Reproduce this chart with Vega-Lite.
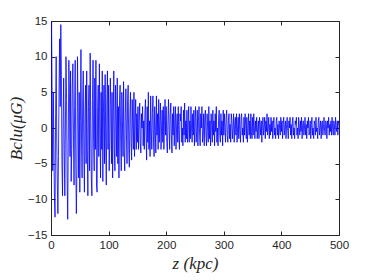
{
  "$schema": "https://vega.github.io/schema/vega-lite/v6.json",
  "autosize": "none",
  "width": 288,
  "height": 214,
  "padding": {"left": 51, "top": 21, "right": 35, "bottom": 45},
  "background": "white",
  "config": {
    "view": {"stroke": "#262626", "strokeWidth": 1},
    "axis": {"grid": false, "labelFlush": false, "labelOverlap": false, "domainColor": "#262626", "domainWidth": 1, "tickColor": "#262626", "tickWidth": 1, "tickSize": -4, "labelFont": "Liberation Sans", "labelFontSize": 11.5, "labelColor": "#262626", "titleFont": "Liberation Serif", "titleFontSize": 17, "titleFontWeight": "normal", "titleColor": "#262626"}
  },
  "data": {"values": [
{"z":0,"b":0},{"z":1,"b":15},{"z":2,"b":4},{"z":3,"b":-6},{"z":4,"b":5},{"z":5,"b":-3},{"z":6,"b":-10},{"z":7,"b":-12.5},{"z":8,"b":2},{"z":9,"b":10},
{"z":10,"b":-2},{"z":11,"b":-8},{"z":12,"b":-12},{"z":13,"b":-4},{"z":14,"b":6},{"z":15,"b":12.5},{"z":16,"b":3},{"z":17,"b":14.5},{"z":18,"b":8},{"z":19,"b":-5},
{"z":20,"b":-9.5},{"z":21,"b":1},{"z":22,"b":7},{"z":23,"b":-3},{"z":24,"b":-9.5},{"z":25,"b":0},{"z":26,"b":10},{"z":27,"b":4},{"z":28,"b":-7},{"z":29,"b":-12.8},
{"z":30,"b":-2},{"z":31,"b":9.5},{"z":32,"b":5},{"z":33,"b":-4},{"z":34,"b":8},{"z":35,"b":-7.5},{"z":36,"b":-3},{"z":37,"b":6},{"z":38,"b":9},{"z":39,"b":-1},
{"z":40,"b":-8},{"z":41,"b":3},{"z":42,"b":9.5},{"z":43,"b":-5},{"z":44,"b":-12},{"z":45,"b":-6},{"z":46,"b":10},{"z":47,"b":2},{"z":48,"b":-7},{"z":49,"b":5},
{"z":50,"b":-9},{"z":51,"b":1},{"z":52,"b":11},{"z":53,"b":-2},{"z":54,"b":-7},{"z":55,"b":4},{"z":56,"b":8},{"z":57,"b":-4},{"z":58,"b":-9},{"z":59,"b":2},
{"z":60,"b":6},{"z":61,"b":-5},{"z":62,"b":8},{"z":63,"b":-3},{"z":64,"b":-9.5},{"z":65,"b":3},{"z":66,"b":6},{"z":67,"b":-6},{"z":68,"b":10.5},{"z":69,"b":1},
{"z":70,"b":-7},{"z":71,"b":-9.5},{"z":72,"b":4},{"z":73,"b":9.5},{"z":74,"b":-2},{"z":75,"b":-6},{"z":76,"b":7},{"z":77,"b":-3},{"z":78,"b":9.5},{"z":79,"b":-8},
{"z":80,"b":-9},{"z":81,"b":3},{"z":82,"b":6},{"z":83,"b":-4},{"z":84,"b":9},{"z":85,"b":0},{"z":86,"b":-7},{"z":87,"b":5},{"z":88,"b":-3},{"z":89,"b":8},
{"z":90,"b":-7.5},{"z":91,"b":2},{"z":92,"b":6},{"z":93,"b":-5},{"z":94,"b":7.5},{"z":95,"b":-2},{"z":96,"b":-8},{"z":97,"b":4},{"z":98,"b":8},{"z":99,"b":-3},
{"z":100,"b":6},{"z":101,"b":-6},{"z":102,"b":-2},{"z":103,"b":7},{"z":104,"b":3},{"z":105,"b":-5},{"z":106,"b":5},{"z":107,"b":-7},{"z":108,"b":1},{"z":109,"b":8},
{"z":110,"b":-3},{"z":111,"b":-6},{"z":112,"b":6},{"z":113,"b":2},{"z":114,"b":-4},{"z":115,"b":7},{"z":116,"b":-5},{"z":117,"b":3},{"z":118,"b":-7},{"z":119,"b":4},
{"z":120,"b":6},{"z":121,"b":-2},{"z":122,"b":-6},{"z":123,"b":5},{"z":124,"b":1},{"z":125,"b":-4},{"z":126,"b":6.5},{"z":127,"b":-3},{"z":128,"b":-6},{"z":129,"b":2},
{"z":130,"b":5.5},{"z":131,"b":-1},{"z":132,"b":-5},{"z":133,"b":4},{"z":134,"b":6},{"z":135,"b":-3},{"z":136,"b":-5.5},{"z":137,"b":2},{"z":138,"b":5},{"z":139,"b":-2},
{"z":140,"b":-4.5},{"z":141,"b":4},{"z":142,"b":0},{"z":143,"b":-3},{"z":144,"b":5},{"z":145,"b":-4},{"z":146,"b":1},{"z":147,"b":4},{"z":148,"b":-3},{"z":149,"b":2},
{"z":150,"b":-2},{"z":151,"b":3},{"z":152,"b":-3},{"z":153,"b":1},{"z":154,"b":3.5},{"z":155,"b":-2},{"z":156,"b":-3.5},{"z":157,"b":2},{"z":158,"b":0},{"z":159,"b":3},
{"z":160,"b":-2.5},{"z":161,"b":1},{"z":162,"b":-3},{"z":163,"b":2},{"z":164,"b":4},{"z":165,"b":-1},{"z":166,"b":-4.5},{"z":167,"b":3},{"z":168,"b":-2},{"z":169,"b":5},
{"z":170,"b":-3},{"z":171,"b":1},{"z":172,"b":-4},{"z":173,"b":4.5},{"z":174,"b":0},{"z":175,"b":-3},{"z":176,"b":2},{"z":177,"b":4.5},{"z":178,"b":-2},{"z":179,"b":-4},
{"z":180,"b":3},{"z":181,"b":0},{"z":182,"b":-3.5},{"z":183,"b":4.5},{"z":184,"b":-1},{"z":185,"b":2},{"z":186,"b":-3},{"z":187,"b":4},{"z":188,"b":-2},{"z":189,"b":1},
{"z":190,"b":3.5},{"z":191,"b":-3},{"z":192,"b":0},{"z":193,"b":2.5},{"z":194,"b":-2},{"z":195,"b":3},{"z":196,"b":-3},{"z":197,"b":1},{"z":198,"b":4},{"z":199,"b":-1},
{"z":200,"b":3},{"z":201,"b":-2},{"z":202,"b":-3.5},{"z":203,"b":1},{"z":204,"b":4},{"z":205,"b":0},{"z":206,"b":-3},{"z":207,"b":2},{"z":208,"b":3.5},{"z":209,"b":-1},
{"z":210,"b":-3.5},{"z":211,"b":2},{"z":212,"b":-1},{"z":213,"b":3},{"z":214,"b":-2.5},{"z":215,"b":1},{"z":216,"b":3},{"z":217,"b":-3},{"z":218,"b":0},{"z":219,"b":2},
{"z":220,"b":-2},{"z":221,"b":3},{"z":222,"b":-1},{"z":223,"b":-3},{"z":224,"b":2},{"z":225,"b":1},{"z":226,"b":3},{"z":227,"b":-2},{"z":228,"b":0},{"z":229,"b":-2.5},
{"z":230,"b":2.5},{"z":231,"b":-1},{"z":232,"b":3.5},{"z":233,"b":-2},{"z":234,"b":1},{"z":235,"b":-1.5},{"z":236,"b":2.5},{"z":237,"b":-2},{"z":238,"b":0.5},{"z":239,"b":3},
{"z":240,"b":-2},{"z":241,"b":1},{"z":242,"b":-1.5},{"z":243,"b":3},{"z":244,"b":0},{"z":245,"b":-2},{"z":246,"b":2},{"z":247,"b":-1},{"z":248,"b":2.5},{"z":249,"b":-2.5},
{"z":250,"b":1},{"z":251,"b":3},{"z":252,"b":-2},{"z":253,"b":-0.5},{"z":254,"b":2.5},{"z":255,"b":-2.5},{"z":256,"b":1},{"z":257,"b":3},{"z":258,"b":-1},{"z":259,"b":-2.5},
{"z":260,"b":2},{"z":261,"b":0},{"z":262,"b":3},{"z":263,"b":-2},{"z":264,"b":-1},{"z":265,"b":2},{"z":266,"b":-2.5},{"z":267,"b":1.5},{"z":268,"b":2.5},{"z":269,"b":-1},
{"z":270,"b":-2.5},{"z":271,"b":2},{"z":272,"b":0},{"z":273,"b":-2},{"z":274,"b":3},{"z":275,"b":-1.5},{"z":276,"b":1},{"z":277,"b":-2.5},{"z":278,"b":2},{"z":279,"b":0.5},
{"z":280,"b":-2},{"z":281,"b":2.5},{"z":282,"b":-1},{"z":283,"b":1},{"z":284,"b":-2.5},{"z":285,"b":2},{"z":286,"b":-0.5},{"z":287,"b":3},{"z":288,"b":-2},{"z":289,"b":0},
{"z":290,"b":-2.5},{"z":291,"b":1.5},{"z":292,"b":2.5},{"z":293,"b":-1},{"z":294,"b":-2},{"z":295,"b":2},{"z":296,"b":-1},{"z":297,"b":1},{"z":298,"b":-2.5},{"z":299,"b":2.5},
{"z":300,"b":-1},{"z":301,"b":2},{"z":302,"b":0},{"z":303,"b":-2},{"z":304,"b":1.5},{"z":305,"b":2.5},{"z":306,"b":-1},{"z":307,"b":-2},{"z":308,"b":1},{"z":309,"b":2},
{"z":310,"b":-1.5},{"z":311,"b":0.5},{"z":312,"b":-2},{"z":313,"b":2},{"z":314,"b":1},{"z":315,"b":-1.5},{"z":316,"b":0},{"z":317,"b":2},{"z":318,"b":-2},{"z":319,"b":0.5},
{"z":320,"b":1.5},{"z":321,"b":-1},{"z":322,"b":2},{"z":323,"b":-2},{"z":324,"b":0},{"z":325,"b":1.5},{"z":326,"b":-1.5},{"z":327,"b":2},{"z":328,"b":-0.5},{"z":329,"b":-2},
{"z":330,"b":1.5},{"z":331,"b":2},{"z":332,"b":-1},{"z":333,"b":0},{"z":334,"b":-2},{"z":335,"b":1.5},{"z":336,"b":-1},{"z":337,"b":2},{"z":338,"b":0.5},{"z":339,"b":-1.5},
{"z":340,"b":1.5},{"z":341,"b":-2},{"z":342,"b":0},{"z":343,"b":2},{"z":344,"b":-1},{"z":345,"b":1},{"z":346,"b":-1.5},{"z":347,"b":2},{"z":348,"b":-0.5},{"z":349,"b":-1.5},
{"z":350,"b":1.5},{"z":351,"b":-1},{"z":352,"b":2},{"z":353,"b":0},{"z":354,"b":-1.5},{"z":355,"b":1},{"z":356,"b":-0.5},{"z":357,"b":1.5},{"z":358,"b":-1.5},{"z":359,"b":0},
{"z":360,"b":1},{"z":361,"b":-1.5},{"z":362,"b":1.5},{"z":363,"b":0.5},{"z":364,"b":-1},{"z":365,"b":1},{"z":366,"b":-2},{"z":367,"b":0.5},{"z":368,"b":1.5},{"z":369,"b":-1},
{"z":370,"b":0},{"z":371,"b":1.5},{"z":372,"b":-1.5},{"z":373,"b":1},{"z":374,"b":-0.5},{"z":375,"b":2},{"z":376,"b":-1},{"z":377,"b":0},{"z":378,"b":1.5},{"z":379,"b":-1.5},
{"z":380,"b":0.5},{"z":381,"b":-1},{"z":382,"b":1.5},{"z":383,"b":-0.5},{"z":384,"b":1},{"z":385,"b":-1.5},{"z":386,"b":0.5},{"z":387,"b":1.5},{"z":388,"b":-1},{"z":389,"b":0},
{"z":390,"b":-1.5},{"z":391,"b":1},{"z":392,"b":1.5},{"z":393,"b":-1},{"z":394,"b":0.5},{"z":395,"b":-1.5},{"z":396,"b":1},{"z":397,"b":0},{"z":398,"b":-1},{"z":399,"b":1.5},
{"z":400,"b":-0.5},{"z":401,"b":1},{"z":402,"b":-1.5},{"z":403,"b":0.5},{"z":404,"b":1.5},{"z":405,"b":-1},{"z":406,"b":0},{"z":407,"b":1},{"z":408,"b":-1.5},{"z":409,"b":0.5},
{"z":410,"b":1.5},{"z":411,"b":-0.5},{"z":412,"b":-1.5},{"z":413,"b":1},{"z":414,"b":0},{"z":415,"b":1.5},{"z":416,"b":-1},{"z":417,"b":0.5},{"z":418,"b":-1.5},{"z":419,"b":1},
{"z":420,"b":1.5},{"z":421,"b":-1},{"z":422,"b":0},{"z":423,"b":-1.5},{"z":424,"b":1},{"z":425,"b":0.5},{"z":426,"b":1.5},{"z":427,"b":-1},{"z":428,"b":0},{"z":429,"b":-1.5},
{"z":430,"b":1.5},{"z":431,"b":0},{"z":432,"b":-1},{"z":433,"b":1},{"z":434,"b":-0.5},{"z":435,"b":1.5},{"z":436,"b":-1.5},{"z":437,"b":0.5},{"z":438,"b":1},{"z":439,"b":-1},
{"z":440,"b":0},{"z":441,"b":1.5},{"z":442,"b":-1},{"z":443,"b":0.5},{"z":444,"b":-1.5},{"z":445,"b":1},{"z":446,"b":0},{"z":447,"b":1.5},{"z":448,"b":-1},{"z":449,"b":-0.5},
{"z":450,"b":1},{"z":451,"b":-1.5},{"z":452,"b":0.5},{"z":453,"b":1.5},{"z":454,"b":-1},{"z":455,"b":0},{"z":456,"b":-1.5},{"z":457,"b":1},{"z":458,"b":0.5},{"z":459,"b":-1},
{"z":460,"b":1.5},{"z":461,"b":-0.5},{"z":462,"b":0},{"z":463,"b":-1.5},{"z":464,"b":1},{"z":465,"b":1.5},{"z":466,"b":-1},{"z":467,"b":0},{"z":468,"b":1},{"z":469,"b":-1.5},
{"z":470,"b":0.5},{"z":471,"b":1},{"z":472,"b":-1},{"z":473,"b":0},{"z":474,"b":1.5},{"z":475,"b":-0.5},{"z":476,"b":-1},{"z":477,"b":1},{"z":478,"b":0.5},{"z":479,"b":-1.5},
{"z":480,"b":1},{"z":481,"b":0},{"z":482,"b":1.5},{"z":483,"b":-1},{"z":484,"b":0.5},{"z":485,"b":-0.5},{"z":486,"b":1},{"z":487,"b":-1},{"z":488,"b":1.5},{"z":489,"b":0},
{"z":490,"b":-1},{"z":491,"b":1},{"z":492,"b":0.5},{"z":493,"b":-1},{"z":494,"b":1.5},{"z":495,"b":0},{"z":496,"b":-0.5},{"z":497,"b":1},{"z":498,"b":-1},{"z":499,"b":1},{"z":500,"b":0.5}
  ]},
  "layer": [
    {
      "mark": {"type": "line", "color": "#0000ff", "strokeWidth": 0.8, "clip": true},
      "encoding": {
        "x": {"field": "z", "type": "quantitative", "scale": {"domain": [0, 500], "nice": false, "zero": false}, "axis": {"values": [0,100,200,300,400,500], "title": "z (kpc)", "titleFontStyle": "italic", "titlePadding": 5, "labelPadding": 8}},
        "y": {"field": "b", "type": "quantitative", "scale": {"domain": [-15, 15], "nice": false, "zero": false}, "axis": {"values": [-15,-10,-5,0,5,10,15], "title": "Bclu(μG)", "titleFontStyle": "italic", "titlePadding": 2, "labelPadding": 8}}
      }
    },
    {
      "mark": {"type": "line", "opacity": 0},
      "encoding": {
        "x": {"field": "z", "type": "quantitative", "axis": {"orient": "top", "values": [0,100,200,300,400,500], "labels": false, "title": null}},
        "y": {"field": "b", "type": "quantitative", "axis": {"orient": "right", "values": [-15,-10,-5,0,5,10,15], "labels": false, "title": null}}
      }
    }
  ],
  "resolve": {"axis": {"x": "independent", "y": "independent"}}
}
